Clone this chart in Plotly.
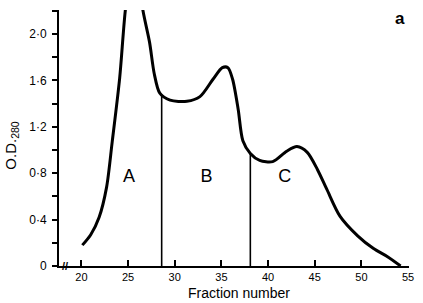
import plotly.graph_objects as go

# Elution profile (fraction number, O.D. 280)
fractions = [20.1, 21.0, 21.9, 22.7, 23.3, 24.1, 24.7, 25.6, 26.6, 27.3, 27.8, 28.4,
             29.5, 31.3, 32.7, 34.1, 35.1, 35.7, 36.2, 36.8, 37.3, 38.1, 39.1, 40.5,
             42.0, 43.1, 44.2, 45.3, 46.3, 47.7, 49.6, 51.3, 52.8, 54.2]
od280 = [0.18, 0.27, 0.42, 0.68, 1.07, 1.62, 2.20, 2.75, 2.20, 1.93, 1.66, 1.49,
         1.43, 1.42, 1.46, 1.61, 1.71, 1.71, 1.61, 1.35, 1.08, 0.97, 0.91, 0.90,
         0.99, 1.03, 0.98, 0.83, 0.66, 0.43, 0.26, 0.15, 0.08, 0.0]

# Pool boundaries
boundary_fractions = [28.6, 38.1]
boundary_tops = [1.48, 0.97]

# Pool labels
pool_labels = ["A", "B", "C"]
pool_x = [25.1, 33.4, 41.8]
pool_y = [0.76, 0.76, 0.76]

x_ticks = [20, 25, 30, 35, 40, 45, 50, 55]
y_ticks = [0, 0.4, 0.8, 1.2, 1.6, 2.0]
y_ticktext = ["0", "0·4", "0·8", "1·2", "1·6", "2·0"]

FONT = "Liberation Sans, Arial, sans-serif"

fig = go.Figure()
fig.add_trace(go.Scatter(x=fractions, y=od280, mode="lines",
                         line=dict(color="black", width=3, shape="spline", smoothing=0.8),
                         hoverinfo="skip"))
for bx, bt in zip(boundary_fractions, boundary_tops):
    fig.add_trace(go.Scatter(x=[bx, bx], y=[0, bt], mode="lines",
                             line=dict(color="black", width=1.6), hoverinfo="skip"))
fig.add_trace(go.Scatter(x=pool_x, y=pool_y, mode="text", text=pool_labels,
                         textfont=dict(family=FONT, size=18, color="black"),
                         hoverinfo="skip"))

fig.update_layout(
    width=423, height=303,
    margin=dict(l=59, r=9, t=10, b=37),
    paper_bgcolor="white", plot_bgcolor="white",
    showlegend=False,
    font=dict(family=FONT, size=11, color="black"),
    xaxis=dict(range=[17.6, 55.1], tickvals=x_ticks, ticks="inside", ticklen=6,
               tickwidth=1.5, tickcolor="black", showline=True, linecolor="black",
               linewidth=2, showgrid=False, zeroline=False,
               tickfont=dict(size=11)),
    yaxis=dict(range=[0, 2.207], tickvals=y_ticks, ticktext=y_ticktext,
               ticks="outside", ticklen=5, tickwidth=1.5, tickcolor="black",
               showline=True, linecolor="black", linewidth=2, showgrid=False,
               zeroline=False, tickfont=dict(size=12), ticklabelstandoff=3,
               minor=dict(tickvals=[0.2, 0.6, 1.0, 1.4, 1.8, 2.2], ticks="outside",
                          ticklen=5, tickwidth=1.5, tickcolor="black")),
)

fig.add_annotation(text="Fraction number", xref="paper", yref="paper",
                   x=0.514, y=-0.107, xanchor="center", yanchor="middle",
                   showarrow=False, font=dict(size=14))
fig.add_annotation(text="O.D.<sub>280</sub>", xref="paper", yref="paper",
                   x=-0.135, y=0.473, xanchor="center", yanchor="middle",
                   textangle=-90, showarrow=False, font=dict(size=15))
fig.add_annotation(text="<b>a</b>", xref="paper", yref="paper",
                   x=0.975, y=0.965, xanchor="center", yanchor="middle",
                   showarrow=False, font=dict(size=17))
fig.add_annotation(text="<b>//</b>", xref="paper", yref="paper",
                   x=0.018, y=0.0, xanchor="center", yanchor="middle",
                   showarrow=False, font=dict(size=11))

fig.write_html("out.html", config={"displayModeBar": False},
               post_script="document.body.style.margin='0';")
